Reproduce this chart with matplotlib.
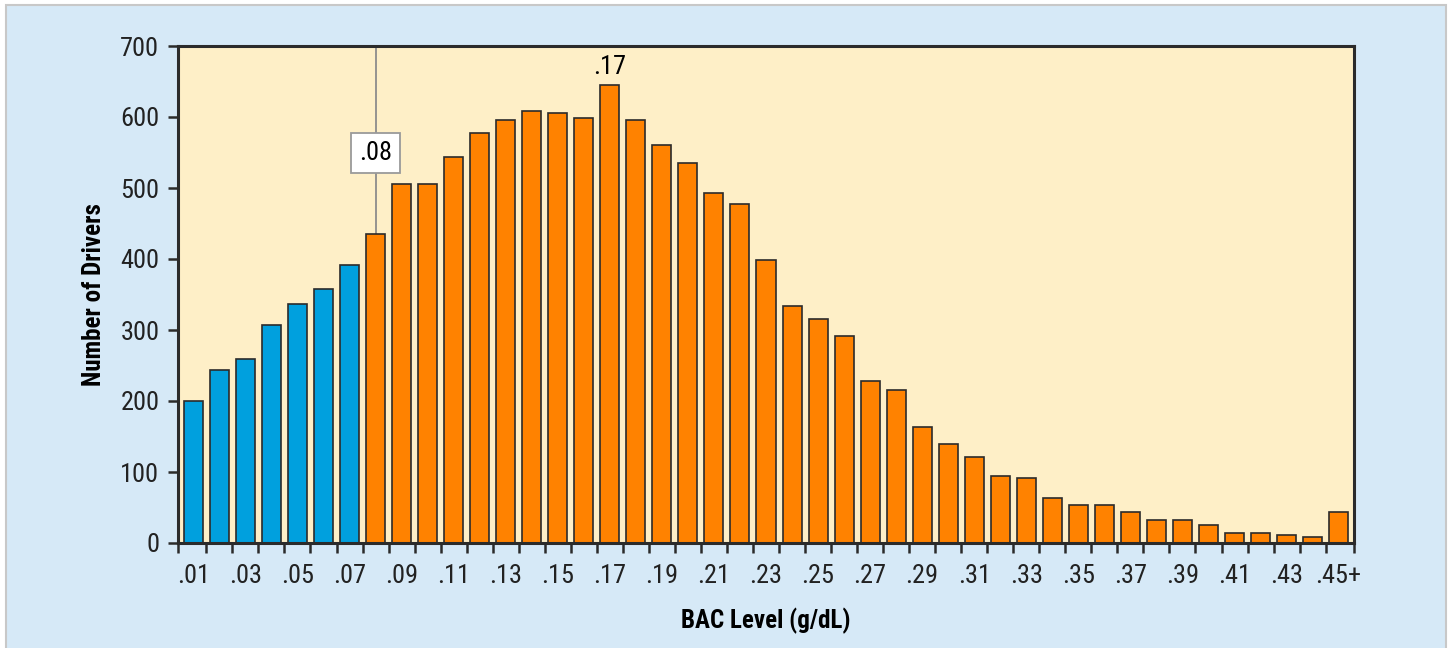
import numpy as np
import matplotlib
matplotlib.use("Agg")
import matplotlib.pyplot as plt
from matplotlib.patches import Rectangle

# BAC levels .01 ... .44, then .45+
bac_labels = [".%02d" % i for i in range(1, 45)] + [".45+"]
drivers = [200, 243, 259, 307, 337, 358, 392, 435, 505, 505,
           544, 578, 596, 608, 606, 599, 645, 596, 560, 535,
           493, 477, 398, 334, 316, 292, 228, 216, 164, 140,
           121, 94, 91, 63, 54, 54, 44, 33, 33, 26,
           14, 14, 11, 8, 44]
legal_limit = ".08"
peak_label = ".17"

BLUE = "#00a0de"
ORANGE = "#ff8200"
EDGE = "#2b2b2b"
TXT = 19

plt.rcParams['font.family'] = ['Roboto Condensed', 'DejaVu Sans']
plt.rcParams['font.stretch'] = 'condensed'

fig = plt.figure(figsize=(14.49, 6.48), dpi=100)
fig.patch.set_facecolor("white")
# light blue panel with grey frame, kept behind the axes
fig.patches.append(Rectangle((6 / 1449, -0.01), 1440 / 1449, 1 - 5 / 648 + 0.01,
                             transform=fig.transFigure, facecolor="#d6e9f7",
                             edgecolor="#c8c8c8", linewidth=1.5, zorder=-10))

ax = fig.add_axes([178 / 1449, 1 - 543 / 648, 1176 / 1449, 497 / 648])
ax.set_facecolor("#feefc7")

x = np.arange(len(drivers))
limit_idx = bac_labels.index(legal_limit)
colors = [BLUE if i < limit_idx else ORANGE for i in x]
ax.bar(x, drivers, width=0.73, color=colors, edgecolor=EDGE, linewidth=1.2, zorder=3)

ax.set_xlim(-0.59, len(drivers) - 1 + 0.59)
ax.set_ylim(0, 700)
ax.set_yticks(np.arange(0, 701, 100))

# labels under every other bar, tick marks between bars
ax.set_xticks(x[::2])
ax.set_xticklabels(bac_labels[::2])
edges = [-0.59] + list(x[:-1] + 0.5) + [len(drivers) - 1 + 0.59]
ax.set_xticks(edges, minor=True)
ax.tick_params(axis="x", which="major", length=0, pad=15, labelsize=TXT, colors="#222222")
ax.tick_params(axis="x", which="minor", length=7.5, width=1.8, color=EDGE, direction="out")
ax.tick_params(axis="y", which="major", length=7.5, width=1.8, color=EDGE, pad=6,
               labelsize=TXT, labelcolor="#222222")

for s in ax.spines.values():
    s.set_linewidth(2.2)
    s.set_color(EDGE)
    s.set_zorder(5)

ax.set_xlabel("BAC Level (g/dL)", fontsize=18, fontweight="bold", labelpad=14)
ax.set_ylabel("Number of Drivers", fontsize=18, fontweight="bold", labelpad=10)

# .08 marker line and box
ax.plot([limit_idx, limit_idx], [drivers[limit_idx], 700], color="#8c8c8c", lw=1.3, zorder=2)
ax.text(limit_idx, 549, legal_limit, ha="center", va="center", fontsize=TXT, zorder=4,
        bbox=dict(boxstyle="square,pad=0.3", facecolor="white", edgecolor="#9a9a9a", lw=1.3))

peak_idx = bac_labels.index(peak_label)
ax.text(peak_idx, drivers[peak_idx] + 8, peak_label, ha="center", va="bottom", fontsize=TXT)

fig.savefig("out.png", dpi=100, facecolor=fig.get_facecolor())
